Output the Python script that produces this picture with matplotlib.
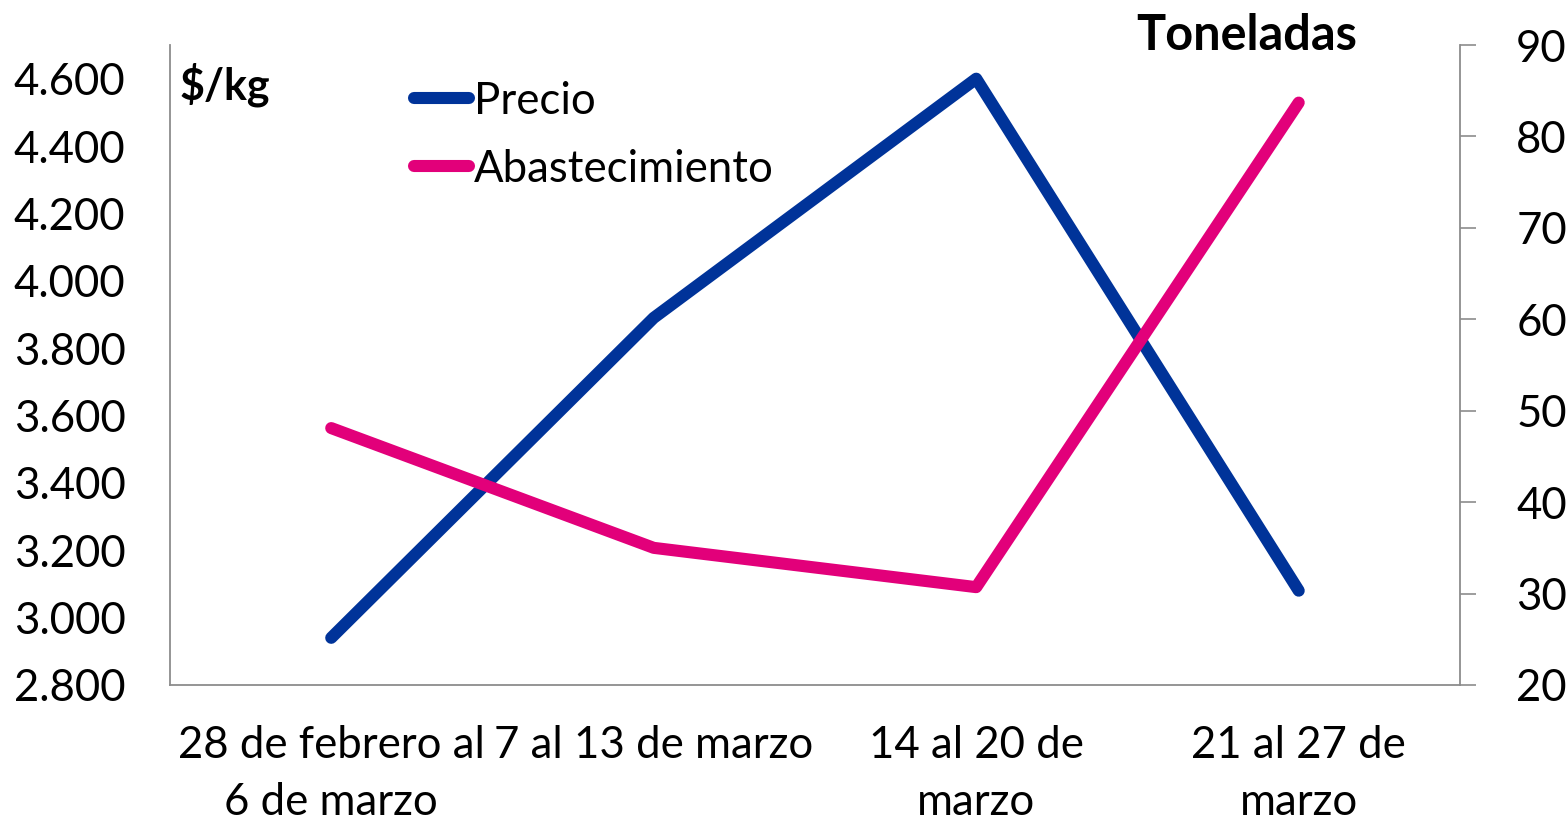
import matplotlib
matplotlib.use("Agg")
import matplotlib.pyplot as plt
from matplotlib.ticker import FuncFormatter

categories = ["28 de febrero al\n6 de marzo", "7 al 13 de marzo", "14 al 20 de\nmarzo", "21 al 27 de\nmarzo"]
precio = [2940, 3890, 4600, 3080]
abastecimiento = [48.1, 35.0, 30.7, 83.7]
left_ticks = [2800, 3000, 3200, 3400, 3600, 3800, 4000, 4200, 4400, 4600]
right_ticks = [20, 30, 40, 50, 60, 70, 80, 90]

FONT = ["Lato", "DejaVu Sans"]
plt.rcParams['font.family'] = FONT
FS = 31.5

fig = plt.figure(figsize=(15.68, 8.23), dpi=100)
ax = fig.add_axes([0.1084, 0.1677, 0.8227, 0.7776])
ax2 = ax.twinx()

x = list(range(len(categories)))
blue = "#003399"
pink = "#E2007A"
l1, = ax.plot(x, precio, color=blue, lw=8.7, solid_capstyle="round", solid_joinstyle="round", label="Precio")
l2, = ax2.plot(x, abastecimiento, color=pink, lw=8.7, solid_capstyle="round", solid_joinstyle="round", label="Abastecimiento")

ax.set_xlim(-0.5, len(categories) - 0.5)
ax.set_ylim(2800, 4700)
ax2.set_ylim(20, 90)
ax.set_yticks(left_ticks)
ax.yaxis.set_major_formatter(FuncFormatter(lambda v, p: f"{int(v):,}".replace(",", ".")))
ax2.set_yticks(right_ticks)

ax.set_xticks(x)
ax.set_xticklabels(categories, fontsize=FS, linespacing=1.48)
ax.tick_params(axis="x", length=0, pad=29)
ax.tick_params(axis="y", length=0, pad=32, labelsize=FS)
ax2.tick_params(axis="y", length=11.5, width=1.2, color="#8c8c8c", pad=29, labelsize=FS)

for s in ["top", "right"]:
    ax.spines[s].set_visible(False)
for s in ["top", "left", "bottom"]:
    ax2.spines[s].set_visible(False)
for s in ["left", "bottom"]:
    ax.spines[s].set_color("#8c8c8c")
    ax.spines[s].set_linewidth(1.3)
ax2.spines["right"].set_color("#8c8c8c")
ax2.spines["right"].set_linewidth(1.3)

fig.text(180 / 1568, 1 - 85 / 823, "$/kg", fontsize=31, fontweight="bold", va="center", ha="left")
fig.text(1247 / 1568, 1 - 35 / 823, "Toneladas", fontsize=35, fontweight="bold", va="center", ha="center")

leg = ax.legend([l1, l2], ["Precio", "Abastecimiento"], loc="upper left",
                bbox_to_anchor=(205 / 1290, 1.006), frameon=False, fontsize=FS,
                handlelength=1.26, handletextpad=0.1, labelspacing=0.62)

fig.savefig("out.png", dpi=100)
